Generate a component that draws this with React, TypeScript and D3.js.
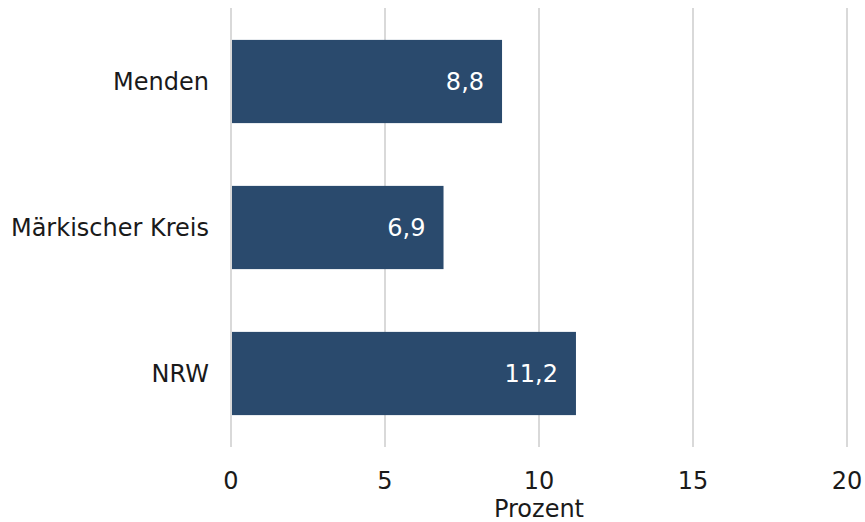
import React from "react";
import * as d3 from "d3";

const categories = ["Menden", "Märkischer Kreis", "NRW"];
const values = [8.8, 6.9, 11.2];
const valueLabels = ["8,8", "6,9", "11,2"];
const xTicks = [0, 5, 10, 15, 20];
const axisTitle = "Prozent";

const W = 865;
const H = 522;
const FONT = "Verdana, 'DejaVu Sans', sans-serif";
const FS = 24;

export default function App() {
  const x = d3.scaleLinear().domain([0, 20]).range([231, 847]);
  const y = d3
    .scaleBand<string>()
    .domain(categories)
    .range([8.5, 446.5])
    .paddingInner(0.43)
    .paddingOuter(0.215);

  return (
    <svg
      width={W}
      height={H}
      style={{ position: "absolute", left: 0, top: 0, background: "#fff" }}
      fontFamily={FONT}
    >
      {xTicks.map((t) => (
        <g key={t}>
          <line
            x1={x(t)}
            x2={x(t)}
            y1={8}
            y2={447}
            stroke="#d9d9d9"
            strokeWidth={2}
          />
          <text
            x={x(t)}
            y={489}
            textAnchor="middle"
            fontSize={FS}
            fill="#1a1a1a"
          >
            {t}
          </text>
        </g>
      ))}
      <text
        x={(x(0) + x(20)) / 2}
        y={517}
        textAnchor="middle"
        fontSize={FS}
        fill="#1a1a1a"
      >
        {axisTitle}
      </text>
      {categories.map((c, i) => {
        const y0 = y(c)!;
        const bh = y.bandwidth();
        const cy = y0 + bh / 2;
        return (
          <g key={c}>
            <rect
              x={x(0) + 1}
              y={y0}
              width={x(values[i]) - x(0) - 1}
              height={bh}
              fill="#2a4a6d"
            />
            <text
              x={209}
              y={cy}
              dy="0.36em"
              textAnchor="end"
              fontSize={FS}
              fill="#1a1a1a"
            >
              {c}
            </text>
            <text
              x={x(values[i]) - 18}
              y={cy}
              dy="0.36em"
              textAnchor="end"
              fontSize={FS}
              fill="#ffffff"
            >
              {valueLabels[i]}
            </text>
          </g>
        );
      })}
    </svg>
  );
}
